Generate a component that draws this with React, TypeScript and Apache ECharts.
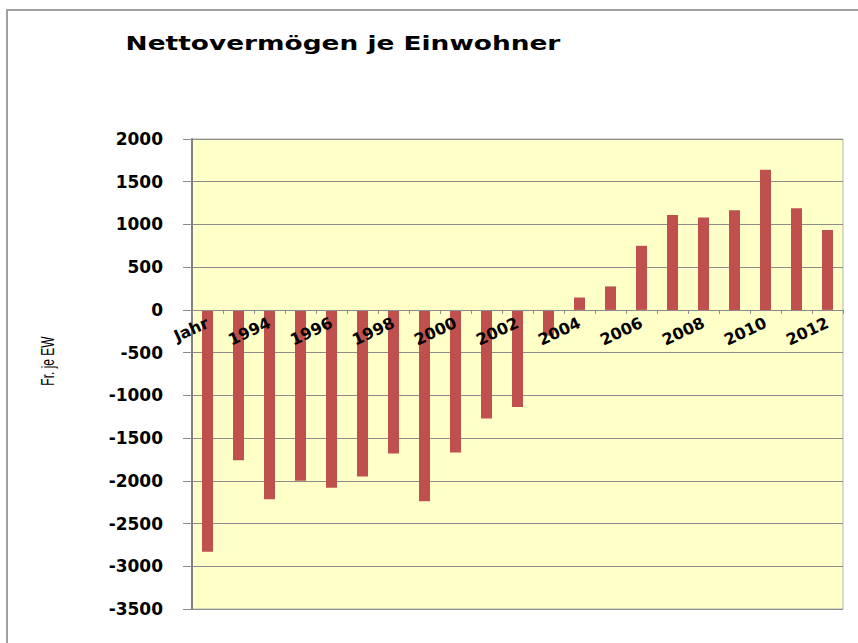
import React, { useEffect, useRef } from "react";
import * as echarts from "echarts";

const titleText = "Nettovermögen je Einwohner";
const yAxisTitle = "Fr. je EW";
const categories = [
  "Jahr", "1993", "1994", "1995", "1996", "1997", "1998", "1999", "2000", "2001", "2002",
  "2003", "2004", "2005", "2006", "2007", "2008", "2009", "2010", "2011", "2012",
];
const values = [
  -2830, -1760, -2215, -2000, -2080, -1950, -1680, -2240, -1670, -1270, -1135,
  -300, 145, 275, 750, 1110, 1080, 1165, 1640, 1190, 935,
];
const yMin = -3500;
const yMax = 2000;
const yStep = 500;

const GRID_TOP = 139;
const GRID_BOTTOM = 34;
const HEIGHT = 643;

export default function App() {
  const ref = useRef<HTMLDivElement>(null);
  useEffect(() => {
    if (!ref.current) return;
    const chart = echarts.init(ref.current, null, { renderer: "svg" });
    const plotH = HEIGHT - GRID_TOP - GRID_BOTTOM;
    const zeroOffset = -(plotH * (0 - yMin)) / (yMax - yMin);
    chart.setOption({
      animation: false,
      backgroundColor: "#ffffff",
      graphic: [
        {
          type: "rect",
          z: -10,
          shape: { x: 7, y: 10, width: 900, height: 700 },
          style: { fill: "none", stroke: "#a0a0a0", lineWidth: 2 },
        },
        {
          type: "text",
          x: 343,
          y: 43,
          scaleX: 1.32,
          style: {
            text: titleText,
            fontFamily: "DejaVu Sans",
            fontWeight: "bold",
            fontSize: 20,
            fill: "#000",
            align: "center",
            verticalAlign: "middle",
          },
        },
        {
          type: "text",
          x: 48,
          y: 361,
          rotation: Math.PI / 2,
          scaleY: 1.5,
          style: {
            text: yAxisTitle,
            fontFamily: "Liberation Sans",
            fontSize: 12,
            fill: "#000",
            align: "center",
            verticalAlign: "middle",
          },
        },
      ],
      grid: {
        left: 192,
        right: 15,
        top: GRID_TOP,
        bottom: GRID_BOTTOM,
        show: true,
        backgroundColor: "#FFFFC8",
        borderColor: "#b4b4b4",
        borderWidth: 1,
      },
      xAxis: {
        type: "category",
        data: categories,
        offset: zeroOffset,
        z: 10,
        axisLine: { onZero: false, lineStyle: { color: "#8c8c8c", width: 1 } },
        axisTick: { show: true, interval: 0, length: 4, lineStyle: { color: "#8c8c8c" } },
        axisLabel: {
          interval: 1,
          rotate: 25,
          margin: 12,
          fontFamily: "DejaVu Sans",
          fontWeight: "bold",
          fontSize: 16,
          color: "#000",
        },
        splitLine: { show: false },
      },
      yAxis: {
        type: "value",
        min: yMin,
        max: yMax,
        interval: yStep,
        axisLine: { show: true, lineStyle: { color: "#808080", width: 2 } },
        axisTick: { show: true, length: 9, lineStyle: { color: "#8c8c8c" } },
        axisLabel: {
          margin: 29,
          fontFamily: "DejaVu Sans",
          fontWeight: "bold",
          fontSize: 17,
          color: "#000",
          formatter: (v: number) => String(v),
        },
        splitLine: { show: true, lineStyle: { color: "#8c8c8c", width: 1 } },
      },
      series: [
        {
          type: "bar",
          data: values,
          barWidth: 11,
          itemStyle: { color: "#C0504D" },
        },
      ],
    });
    return () => chart.dispose();
  }, []);
  return (
    <div
      ref={ref}
      style={{ position: "fixed", left: 0, top: 0, width: 858, height: 643, background: "#fff" }}
    />
  );
}
